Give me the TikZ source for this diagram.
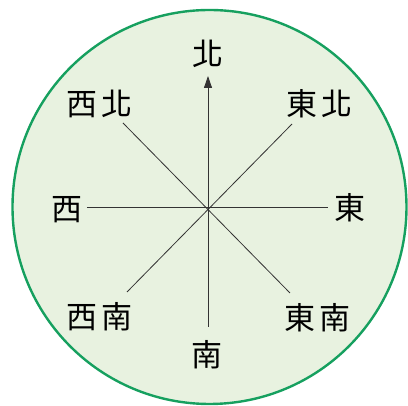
\documentclass[tikz,border=0pt]{standalone}
\usepackage{fontspec}
\newfontfamily\cjk{Noto Sans CJK TC}
\usetikzlibrary{arrows.meta}
\definecolor{dialfill}{RGB}{232,242,224}
\definecolor{dialrim}{RGB}{22,160,95}

\begin{document}
\begin{tikzpicture}[
  x=1pt, y=1pt,
  font=\cjk\fontsize{31}{31}\selectfont,
  dial/.style={draw=dialrim, fill=dialfill, line width=2.4pt},
  ray/.style={draw=black!80, line width=0.8pt},
  arr/.style={ray, -{Triangle[length=12pt, width=8pt]}},
  lbl/.style={inner sep=0pt}
]
\useasboundingbox (-208,-199) rectangle (200,207);
\draw[dial] (1.5,0) circle (197);

% rays from the centre
\coordinate (o) at (0,0);
\coordinate (n) at (0,131);
\coordinate (s) at (0,-120);
\coordinate (w) at (-121,0);
\coordinate (e) at (120,0);
\coordinate (nw) at (-85,84);
\coordinate (ne) at (84,83);
\coordinate (sw) at (-81,-85);
\coordinate (se) at (82,-86);

\draw[arr] (o) -- (n);
\draw[ray] (o) -- (s);
\draw[ray] (w) -- (e);
\draw[ray] (nw) -- (se);
\draw[ray] (sw) -- (ne);

% direction names
\node[lbl] (tn) at (0,153) {北};
\node[lbl] (ts) at (-1,-148) {南};
\node[lbl] (tw) at (-141,-3) {西};
\node[lbl] (te) at (142,-1) {東};
\node[lbl] (tnw) at (-108,103) {西\hspace{4pt}北};
\node[lbl] (tne) at (112,103) {東\hspace{4pt}北};
\node[lbl] (tsw) at (-108,-110) {西\hspace{4pt}南};
\node[lbl] (tse) at (110,-111) {東\hspace{4pt}南};
\end{tikzpicture}
\end{document}
